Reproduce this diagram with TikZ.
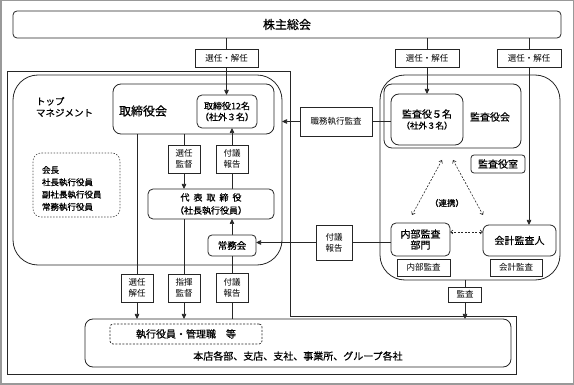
\documentclass[tikz,border=0pt]{standalone}
\usepackage{fontspec}
\setmainfont{Noto Sans CJK JP}
\newfontfamily\jbold[FakeBold=0.6]{Noto Sans CJK JP}
\usetikzlibrary{arrows.meta}
\pgfdeclarelayer{background}
\pgfsetlayers{background,main}
\newcommand{\fsz}[2]{\fontsize{#1}{#2}\selectfont}
\begin{document}
\begin{tikzpicture}[x=1pt,y=-1pt,
  every node/.style={inner sep=0pt, outer sep=0pt, align=center, font=\jbold\fsz{10}{11}},
  ln/.style={line width=0.7pt, draw=black!85},
  bx/.style={draw=black!85, fill=white, line width=0.8pt},
  rbx/.style={bx, rounded corners=#1},
  cont/.style={draw=black!85, line width=0.8pt, rounded corners=#1},
  lbl/.style={draw=black!85, fill=white, line width=0.7pt, font=\normalfont\fsz{8.5}{11}},
  arr/.style={ln, -{Triangle[length=5pt,width=4.5pt]}},
  darr/.style={line width=0.6pt, draw=black!85, dashed, dash pattern=on 2pt off 1.5pt,
    {Straight Barb[length=2.5pt,width=4pt]}-{Straight Barb[length=2.5pt,width=4pt]}},
]
\useasboundingbox (0,0) rectangle (574,385);
\draw[gray!80, line width=1.5pt] (0.75,0.75) rectangle (573.25,384.25);

% containers
\draw[ln, line width=0.8pt] (7,71) -- (290,71) -- (290,316) -- (516,316) -- (516,374) -- (7,374) -- cycle;
\node[rbx=4pt, minimum width=548pt, minimum height=27pt, font=\jbold\fsz{12}{14}] (kabu) at (287,24.5) {株主総会};
\node[cont=25pt, minimum width=269pt, minimum height=190pt] (topm) at (147.5,170) {};
\node[cont=25pt, minimum width=180pt, minimum height=205pt] (rightbox) at (470,177.5) {};
\node[cont=8pt, minimum width=426pt, minimum height=48pt] (bottom) at (298,343) {};

% board of directors
\node[cont=8pt, minimum width=161pt, minimum height=50pt] (torikai) at (193.5,109) {};
\node[font=\jbold\fsz{12}{14}] (torikailbl) at (143,111) {取締役会};
\node[rbx=5pt, minimum width=60pt, minimum height=33pt, font=\jbold\fsz{9}{11}] (tori12) at (227,111.5) {取締役12名\\（社外３名）};
\node[anchor=north west, align=left, font=\jbold\fsz{9.5}{11.5}] (topl) at (36,97) {トップ\\マネジメント};
\node[draw=black!70, dashed, dash pattern=on 1.5pt off 1.5pt, line width=0.6pt, rounded corners=8pt, minimum width=87pt, minimum height=64pt] (yakuin) at (76.5,185) {};
\node[anchor=west, align=left, font=\jbold\fsz{8.5}{12.3}] (yakuinlbl) at (42,188.5) {会長\\社長執行役員\\副社長執行役員\\常務執行役員};
\node[rbx=5pt, minimum width=126pt, minimum height=30pt, font=\jbold\fsz{9}{13}] (daihyo) at (211,204) {代\hspace{4pt}表\hspace{4pt}取\hspace{4pt}締\hspace{4pt}役\\（社長執行役員）};
\node[rbx=4pt, minimum width=48pt, minimum height=21pt, font=\jbold\fsz{9.5}{11}] (jomu) at (232,245.5) {常務会};

% auditors
\node[cont=8pt, minimum width=137pt, minimum height=64pt] (kansakai) at (452.5,116) {};
\node[font=\jbold\fsz{10}{12}] (kansakailbl) at (490,117) {監査役会};
\node[rbx=8pt, minimum width=72pt, minimum height=51pt, font=\jbold\fsz{10}{11}] (kansa5) at (427,119.5) {監査役５名\\{\fsz{8.5}{11}（社外３名）}};
\node[rbx=3pt, minimum width=54pt, minimum height=18pt, font=\jbold\fsz{10}{11}] (kansashitsu) at (498,164) {監査役室};
\node[rbx=5pt, minimum width=59pt, minimum height=33pt, font=\jbold\fsz{10}{11}] (naibu) at (420.5,239.5) {内部監査\\部門};
\node[rbx=6pt, minimum width=73pt, minimum height=31pt, font=\jbold\fsz{10}{11}] (kaikei) at (519.5,240.5) {会計監査人};
\node[lbl, minimum width=53pt, minimum height=17pt] (naibulbl) at (423.5,267.5) {内部監査};
\node[lbl, minimum width=52pt, minimum height=17pt] (kaikeilbl) at (516,267.5) {会計監査};
\node[font=\jbold\fsz{8.5}{10}] (renkei) at (447,203) {（連携）};

% bottom
\node[draw=black!85, dashed, dash pattern=on 2pt off 1.5pt, line width=0.7pt, rounded corners=3pt, minimum width=152pt, minimum height=20pt] (shikko) at (186,334) {執行役員・管理職　等};
\node (honten) at (298,356) {本店各部、支店、支社、事業所、グループ各社};

% label boxes
\node[lbl, minimum width=63pt, minimum height=18pt] (senA) at (226.5,58) {選任・解任};
\node[lbl, minimum width=64pt, minimum height=18pt] (senB) at (427,58) {選任・解任};
\node[lbl, minimum width=64pt, minimum height=18pt] (senC) at (529,58) {選任・解任};
\node[lbl, minimum width=72pt, minimum height=29pt] (shokumu) at (336,121.5) {職務執行監査};
\node[lbl, minimum width=32pt, minimum height=28pt] (senkan) at (184,159) {選任\\監督};
\node[lbl, minimum width=32pt, minimum height=28pt] (fugi1) at (232,159) {付議\\報告};
\node[lbl, minimum width=36pt, minimum height=35pt] (fugi2) at (334,242.5) {付議\\報告};
\node[lbl, minimum width=32pt, minimum height=28pt] (sennin) at (137,288) {選任\\解任};
\node[lbl, minimum width=32pt, minimum height=28pt] (shiki) at (184,288) {指揮\\監督};
\node[lbl, minimum width=32pt, minimum height=29pt] (fugi3) at (232,287.5) {付議\\報告};
\node[lbl, minimum width=33pt, minimum height=15pt] (kansabox) at (465,294.5) {監査};

\coordinate (d1a) at (442,160);
\coordinate (d1b) at (412,215);
\coordinate (d2a) at (453,160);
\coordinate (d2b) at (483,215);
\coordinate (d3) at (0,232);

\begin{pgfonlayer}{background}
\draw[arr] (kabu.south -| senA.center) -- (tori12.north -| senA.center);
\draw[arr] (kabu.south -| senB.center) -- (kansa5.north -| senB.center);
\draw[arr] (kabu.south -| senC.center) -- (kaikei.north -| senC.center);
\draw[arr] (kansa5.west |- shokumu.center) -- (topm.east |- shokumu.center);
\draw[arr] (torikai.south -| senkan.center) -- (daihyo.north -| senkan.center);
\draw[arr] (daihyo.north -| fugi1.center) -- (tori12.south -| fugi1.center);
\draw[arr] (jomu.north) -- (daihyo.south -| jomu.center);
\draw[arr] (naibu.west |- fugi2.center) -- (jomu.east |- fugi2.center);
\draw[arr] (torikai.south -| sennin.center) -- (bottom.north -| sennin.center);
\draw[arr] (daihyo.south -| shiki.center) -- (bottom.north -| shiki.center);
\draw[ln] (bottom.north -| fugi3.center) -- (jomu.south);
\draw[arr] (rightbox.south -| kansabox.center) -- (bottom.north -| kansabox.center);
\draw[darr] (d1a) -- (d1b);
\draw[darr] (d2a) -- (d2b);
\draw[darr] (naibu.east |- d3) -- (kaikei.west |- d3);
\end{pgfonlayer}
\end{tikzpicture}
\end{document}
